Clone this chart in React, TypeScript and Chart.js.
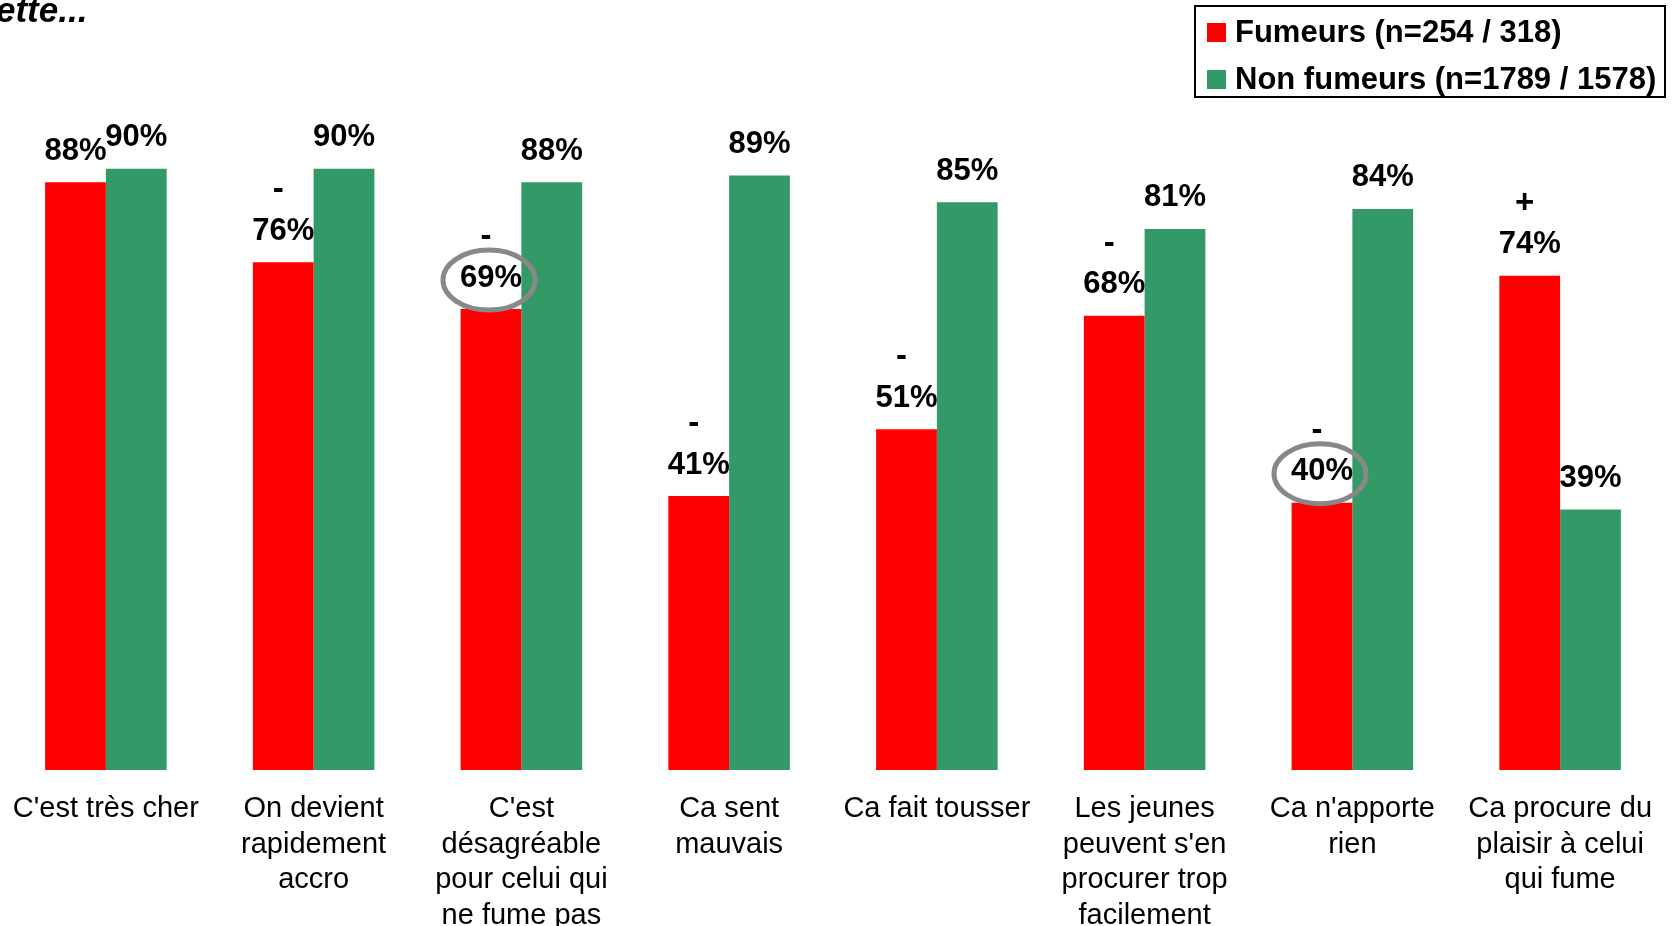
import React, { useEffect, useRef } from "react";
import { Chart, registerables } from "chart.js";

Chart.register(...registerables);

const categories: (string | string[])[] = [
  "C'est très cher",
  ["On devient", "rapidement", "accro"],
  ["C'est", "désagréable", "pour celui qui", "ne fume pas"],
  ["Ca sent", "mauvais"],
  "Ca fait tousser",
  ["Les jeunes", "peuvent s'en", "procurer trop", "facilement"],
  ["Ca n'apporte", "rien"],
  ["Ca procure du", "plaisir à celui", "qui fume"],
];
const fumeurs = [88, 76, 69, 41, 51, 68, 40, 74];
const nonFumeurs = [90, 90, 88, 89, 85, 81, 84, 39];
const markers = ["", "-", "-", "-", "-", "-", "-", "+"];
const circled = [false, false, true, false, false, false, true, false];
const legendLabels = ["Fumeurs (n=254 / 318)", "Non fumeurs (n=1789 / 1578)"];
const titleText = "ette...";

const RED = "#FF0000";
const GREEN = "#339966";

const labelPlugin = {
  id: "valueLabels",
  afterDatasetsDraw(chart: any) {
    const ctx = chart.ctx;
    ctx.save();
    ctx.fillStyle = "#000";
    ctx.textAlign = "center";
    ctx.textBaseline = "middle";
    chart.data.datasets.forEach((ds: any, di: number) => {
      const meta = chart.getDatasetMeta(di);
      meta.data.forEach((bar: any, i: number) => {
        const cx = bar.x;
        const cy = bar.y - 31;
        ctx.font = "bold 31px Arial, 'Liberation Sans', sans-serif";
        ctx.fillText(ds.data[i] + "%", cx, cy);
        if (di === 0) {
          if (markers[i]) {
            ctx.font = "bold 33px Arial, 'Liberation Sans', sans-serif";
            ctx.fillText(markers[i], cx - 5, cy - 41);
          }
          if (circled[i]) {
            ctx.save();
            ctx.strokeStyle = "#888888";
            ctx.lineWidth = 5;
            ctx.beginPath();
            ctx.ellipse(cx - 2, cy + 2, 46, 30, 0, 0, Math.PI * 2);
            ctx.stroke();
            ctx.restore();
          }
        }
      });
    });
    ctx.restore();
  },
};

export default function App() {
  const ref = useRef<HTMLCanvasElement>(null);
  useEffect(() => {
    document.body.style.margin = "0";
    const chart = new Chart(ref.current as HTMLCanvasElement, {
      type: "bar",
      data: {
        labels: categories,
        datasets: [
          { label: legendLabels[0], data: fumeurs, backgroundColor: RED, borderWidth: 0 },
          { label: legendLabels[1], data: nonFumeurs, backgroundColor: GREEN, borderWidth: 0 },
        ],
      },
      options: {
        responsive: false,
        animation: false,
        devicePixelRatio: 1,
        layout: { padding: { top: 102, left: 2, right: 15, bottom: 0 } },
        datasets: { bar: { categoryPercentage: 0.585, barPercentage: 1.0 } },
        plugins: { legend: { display: false }, tooltip: { enabled: false } },
        scales: {
          x: {
            grid: { display: false, drawTicks: false },
            border: { display: false },
            ticks: {
              color: "#000",
              maxRotation: 0,
              autoSkip: false,
              padding: 21,
              font: { family: "Arial, 'Liberation Sans', sans-serif", size: 29, lineHeight: 1.23 },
            },
            afterFit(scale: any) {
              scale.height = 156;
              scale.paddingLeft = 0;
              scale.paddingRight = 0;
            },
          },
          y: { display: false, min: 0, max: 100 },
        },
      },
      plugins: [labelPlugin],
    } as any);
    return () => chart.destroy();
  }, []);

  const legendFont = "bold 31px Arial, 'Liberation Sans', sans-serif";
  return (
    <div style={{ position: "absolute", left: 0, top: 0, width: 1679, height: 926, overflow: "hidden", background: "#fff" }}>
      <canvas ref={ref} width={1679} height={926} style={{ position: "absolute", left: 0, top: 0 }} />
      <div
        style={{
          position: "absolute",
          left: -4,
          top: 21 - 31,
          font: "italic bold 35px Arial, 'Liberation Sans', sans-serif",
          lineHeight: "40px",
          color: "#000",
          whiteSpace: "nowrap",
        }}
      >
        {titleText}
      </div>
      <div
        style={{
          position: "absolute",
          left: 1194,
          top: 5,
          width: 468,
          height: 89,
          border: "2px solid #000",
          background: "#fff",
        }}
      >
        {[RED, GREEN].map((c, i) => (
          <div
            key={i}
            style={{
              position: "absolute",
              left: 11,
              top: 27 - 20 + i * 47 - 2,
              height: 40,
              display: "flex",
              alignItems: "center",
              whiteSpace: "nowrap",
            }}
          >
            <span style={{ display: "inline-block", width: 19, height: 19, background: c, marginRight: 9 }} />
            <span style={{ font: legendFont, color: "#000" }}>{legendLabels[i]}</span>
          </div>
        ))}
      </div>
    </div>
  );
}
